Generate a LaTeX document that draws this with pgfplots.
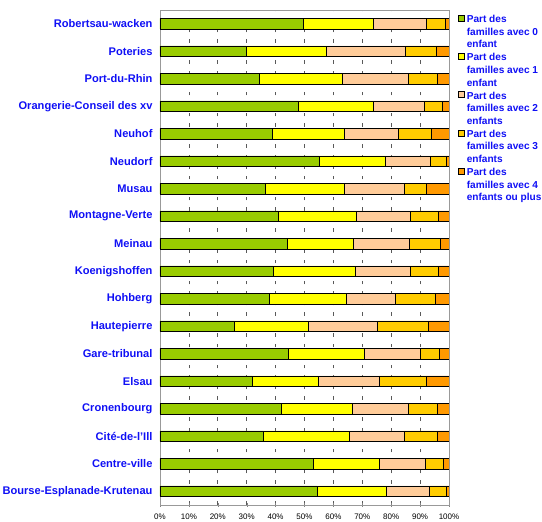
\documentclass[border=0pt]{standalone}
\usepackage{fontspec}
\setmainfont{Liberation Sans}
\usepackage{pgfplots}
\usepackage{pgfplotstable}
\pgfplotsset{compat=1.18}

\definecolor{c0}{RGB}{153,204,0}
\definecolor{c1}{RGB}{255,255,0}
\definecolor{c2}{RGB}{255,204,153}
\definecolor{c3}{RGB}{255,204,0}
\definecolor{c4}{RGB}{255,153,0}
\definecolor{labelblue}{RGB}{15,15,245}

% parts en % : 0, 1, 2, 3, 4+ enfants ; idx 0 = bas du graphique
\pgfplotstableread{
idx a b c d e
0  54.3 24.1 14.9 5.7 1.0
1  53.2 22.8 15.8 6.1 2.1
2  35.8 29.7 19.0 11.3 4.2
3  41.8 24.7 19.5 10.0 4.0
4  31.8 22.8 21.1 16.4 7.9
5  44.5 26.1 19.3 6.7 3.4
6  25.8 25.6 23.9 17.4 7.3
7  37.8 26.6 16.9 14.0 4.7
8  39.1 28.6 18.8 9.8 3.7
9  43.9 22.9 19.3 10.8 3.1
10 40.8 27.1 18.7 9.7 3.7
11 36.3 27.3 20.9 7.8 7.7
12 55.0 23.0 15.5 5.5 1.0
13 39.0 24.7 18.8 11.4 6.1
14 48.0 25.8 17.6 6.3 2.3
15 34.5 28.4 22.9 10.0 4.2
16 29.7 28.0 27.3 10.5 4.5
17 49.6 24.3 18.2 6.7 1.2
}\quartiers

\begin{document}
\begin{tikzpicture}
\begin{axis}[
  name=ax,
  scale only axis,
  width=289pt, height=495pt,
  xbar stacked,
  bar width=10.5pt,
  xmin=0, xmax=100,
  ymin=-0.5, ymax=17.5,
  xtick={0,10,...,100},
  xticklabel={\pgfmathprintnumber{\tick}\%},
  xticklabel style={font=\fontsize{8}{9}\selectfont, yshift=-3pt,
    /pgf/number format/assume math mode=true},
  xtick pos=bottom,
  xtick align=center,
  major tick length=4pt,
  ytick={0,...,17},
  yticklabels={Bourse-Esplanade-Krutenau,Centre-ville,Cité-de-l'Ill,Cronenbourg,
    Elsau,Gare-tribunal,Hautepierre,Hohberg,Koenigshoffen,Meinau,Montagne-Verte,
    Musau,Neudorf,Neuhof,Orangerie-Conseil des xv,Port-du-Rhin,Poteries,Robertsau-wacken},
  yticklabel style={font=\fontsize{11.1}{12}\selectfont\bfseries, text=labelblue,
    xshift=-4pt},
  major y tick style={draw=none},
  axis line style={draw=gray!80},
  xmajorgrids,
  grid style={dash pattern=on 3.5pt off 7pt, draw=black!65, line width=0.6pt},
  legend style={at={(1,1)}, anchor=north west, xshift=9pt, yshift=-3pt,
    draw=none, fill=none, inner sep=0pt,
    font=\fontsize{10.1}{12.6}\selectfont\bfseries, text=labelblue,
    cells={anchor=north west, align=left}},
  legend image code/.code={\draw[#1, draw=black, line width=0.6pt]
    (0pt,-8pt) rectangle (6pt,-2pt);},
]
\addplot[fill=c0, draw=black, line width=0.5pt] table[x=a, y=idx] {\quartiers};
\addlegendentry{Part des\\familles avec 0\\enfant}
\addplot[fill=c1, draw=black, line width=0.5pt] table[x=b, y=idx] {\quartiers};
\addlegendentry{Part des\\familles avec 1\\enfant}
\addplot[fill=c2, draw=black, line width=0.5pt] table[x=c, y=idx] {\quartiers};
\addlegendentry{Part des\\familles avec 2\\enfants}
\addplot[fill=c3, draw=black, line width=0.5pt] table[x=d, y=idx] {\quartiers};
\addlegendentry{Part des\\familles avec 3\\enfants}
\addplot[fill=c4, draw=black, line width=0.5pt] table[x=e, y=idx] {\quartiers};
\addlegendentry{Part des\\familles avec 4\\enfants ou plus}
\draw[black, line width=0.6pt] (rel axis cs:0,0) -- (rel axis cs:1,0);
\end{axis}
\pgfresetboundingbox
\path[use as bounding box] ([shift={(-160pt,-17pt)}]ax.south west)
  rectangle ([shift={(93pt,10pt)}]ax.north east);
\end{tikzpicture}
\end{document}
